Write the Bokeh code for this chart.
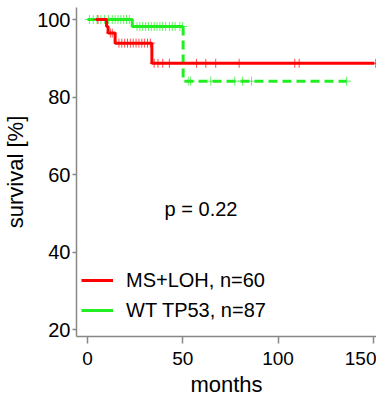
import numpy as np
from bokeh.plotting import figure
from bokeh.models import Legend, LegendItem, FixedTicker
from bokeh.core.properties import value
from bokeh.embed import file_html
from bokeh.resources import INLINE

FONT = "Liberation Sans"

# ---- data ----
# MS+LOH group: step times (months) and survival (%) after each step
red_start = 4.5
red_end = 150.6
red_event_t = [10.0, 10.8, 14.5, 33.8]
red_event_s = [98.2, 96.5, 93.9, 88.7]
red_censor_t = [5.5, 12.0, 13.0, 16.5, 18.0, 19.5, 21.0, 22.5, 24.0, 25.5, 27.0,
                28.5, 30.0, 31.5, 33.0, 35.0, 37.0, 39.5, 43.0, 57.2, 62.1, 67.3,
                79.6, 108.8, 111.1, 151.3]

# WT TP53 group
green_start = 0.0
green_event_t = [23.5, 50.2]
green_event_s = [98.2, 84.1]
green_end = 136.0
green_censor_t = [1.0, 3.0, 5.0, 7.0, 9.0, 11.0, 13.0, 14.5, 16.0, 17.5, 19.0,
                  20.5, 22.0, 26.0, 27.5, 29.0, 30.5, 32.0, 33.5, 35.0, 36.5, 38.0,
                  39.5, 41.0, 43.0, 44.5, 46.0, 48.5, 50.0, 52.9, 54.1, 64.7, 77.3,
                  81.4, 86.1, 136.0]

legend_labels = ["MS+LOH, n=60", "WT TP53, n=87"]
p_text = "p = 0.22"
p_label_x = 59.6
p_label_y = 51.0

x_ticks = [0, 50, 100, 150]
y_ticks = [20, 40, 60, 80, 100]

RED = "#ff0000"
GREEN = "#22ee22"


def step_path(t0, t_end, ev_t, ev_s):
    xs, ys = [t0], [100.0]
    cur = 100.0
    for t, s in zip(ev_t, ev_s):
        xs += [t, t]
        ys += [cur, s]
        cur = s
    xs.append(t_end)
    ys.append(cur)
    return xs, ys


def level_at(times, ev_t, ev_s):
    out = []
    for t in times:
        k = np.searchsorted(ev_t, t, side="right")
        out.append(100.0 if k == 0 else ev_s[k - 1])
    return out


p = figure(frame_width=300, frame_height=329, x_range=(-5.77, 151.7),
           y_range=(18.2, 103.1),
           output_backend="svg", toolbar_location=None,
           min_border_left=76, min_border_right=0, min_border_top=7,
           min_border_bottom=0)
p.outline_line_color = None
p.xgrid.visible = False
p.ygrid.visible = False
p.background_fill_color = "white"

rx, ry = step_path(red_start, red_end, red_event_t, red_event_s)
gx_all, gy_all = step_path(green_start, green_end, green_event_t, green_event_s)
split_t = green_event_t[-1]
gx_solid = [x for x in gx_all if x <= split_t][:-1]
gy_solid = gy_all[:len(gx_solid)]
gx_dash = gx_all[len(gx_solid) - 1:]
gy_dash = gy_all[len(gx_solid) - 1:]

g_solid = p.line(gx_solid, gy_solid, line_color=GREEN, line_width=3)
p.line(gx_dash, gy_dash, line_color=GREEN, line_width=3, line_dash="9 5")
gcs = level_at(green_censor_t, green_event_t, green_event_s)
p.scatter(green_censor_t, gcs, marker="cross", size=9, line_color=GREEN,
          line_width=1, line_alpha=0.7)

r_line = p.line(rx, ry, line_color=RED, line_width=3)
rcs = level_at(red_censor_t, red_event_t, red_event_s)
p.scatter(red_censor_t, rcs, marker="cross", size=9, line_color=RED,
          line_width=1, line_alpha=0.7)

p.text(x=[p_label_x], y=[p_label_y], text=[p_text], text_font=value(FONT),
       text_font_size="20px", text_align="center", text_baseline="middle",
       text_color="black")

legend = Legend(items=[LegendItem(label=legend_labels[0], renderers=[r_line]),
                       LegendItem(label=legend_labels[1], renderers=[g_solid])],
                location=(5, 14), orientation="vertical")
legend.background_fill_alpha = 0
legend.border_line_alpha = 0
legend.padding = 0
legend.margin = 0
legend.glyph_width = 32
legend.glyph_height = 24
legend.label_height = 24
legend.spacing = 6
legend.label_standoff = 13
legend.label_text_font = FONT
legend.label_text_font_size = "20px"
legend.label_text_color = "black"
p.add_layout(legend, "center")

for ax in (p.xaxis[0], p.yaxis[0]):
    ax.axis_line_color = "#888888"
    ax.axis_line_width = 1.5
    ax.major_tick_line_color = "#888888"
    ax.major_tick_line_width = 1.5
    ax.minor_tick_line_color = None
    ax.major_tick_in = 0
    ax.major_label_text_font = FONT
    ax.major_label_text_color = "black"
    ax.axis_label_text_font = FONT
    ax.axis_label_text_font_style = "normal"
    ax.axis_label_text_color = "black"
    ax.axis_label_text_font_size = "22px"

p.xaxis.ticker = FixedTicker(ticks=x_ticks)
p.yaxis.ticker = FixedTicker(ticks=y_ticks)
p.xaxis.major_tick_out = 7
p.yaxis.major_tick_out = 4
p.xaxis.major_label_text_font_size = "19px"
p.yaxis.major_label_text_font_size = "20px"
p.xaxis.major_label_standoff = 8
p.yaxis.major_label_standoff = 2
p.xaxis.axis_label = "months"
p.yaxis.axis_label = "survival [%]"
p.xaxis.axis_label_standoff = 4
p.yaxis.axis_label_standoff = 6

open("out.html", "w").write(file_html(p, INLINE))
